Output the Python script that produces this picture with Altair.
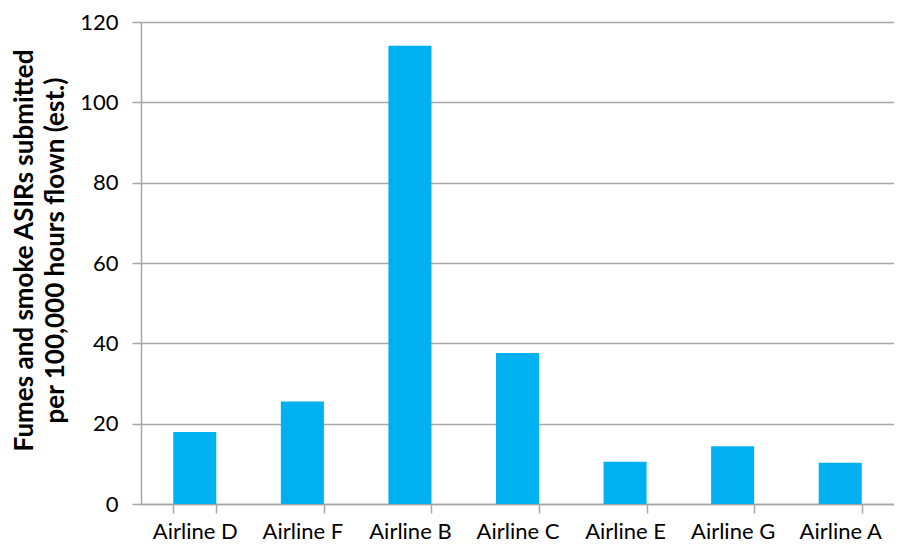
import altair as alt
import pandas as pd

airlines = ["Airline D", "Airline F", "Airline B", "Airline C", "Airline E", "Airline G", "Airline A"]
values = [17.9, 25.5, 114.1, 37.6, 10.5, 14.4, 10.3]
y_ticks = [0, 20, 40, 60, 80, 100, 120]
title_lines = ["Fumes and smoke ASIRs submitted", "per 100,000 hours flown (est.)"]

df = pd.DataFrame({"airline": airlines, "value": values})

FONT = "Lato"

chart = alt.Chart(df).mark_bar(color="#00B0F0").encode(
    x=alt.X("airline:N", sort=airlines,
            scale=alt.Scale(paddingInner=0.6, paddingOuter=0.3),
            axis=alt.Axis(title=None, labelAngle=0, labelFontSize=22, labelFont=FONT,
                          labelColor="#000000", tickBand="extent", tickSize=9,
                          tickColor="#a6a6a6", domainColor="#a6a6a6", tickWidth=1.5,
                          domainWidth=1.5, labelPadding=8, grid=False)),
    y=alt.Y("value:Q", scale=alt.Scale(domain=[0, 120], nice=False),
            axis=alt.Axis(values=y_ticks, title=title_lines, titleFont=FONT,
                          titleFontSize=26, titleFontWeight="bold", titleColor="#000000",
                          titleLineHeight=31, titlePadding=11, titleY=228,
                          labelFont=FONT, labelFontSize=22, labelColor="#000000",
                          labelPadding=14, tickSize=9, tickColor="#a6a6a6", tickWidth=1.5,
                          domainColor="#a6a6a6", domainWidth=1.5,
                          gridColor="#a6a6a6", gridWidth=1.5)),
).properties(
    width=753, height=482,
    autosize=alt.AutoSizeParams(type="none"),
    padding={"left": 133, "top": 14, "right": 0, "bottom": 40},
).configure_view(stroke=None)

chart.save("out.html", embed_options={"renderer": "svg", "actions": False})
